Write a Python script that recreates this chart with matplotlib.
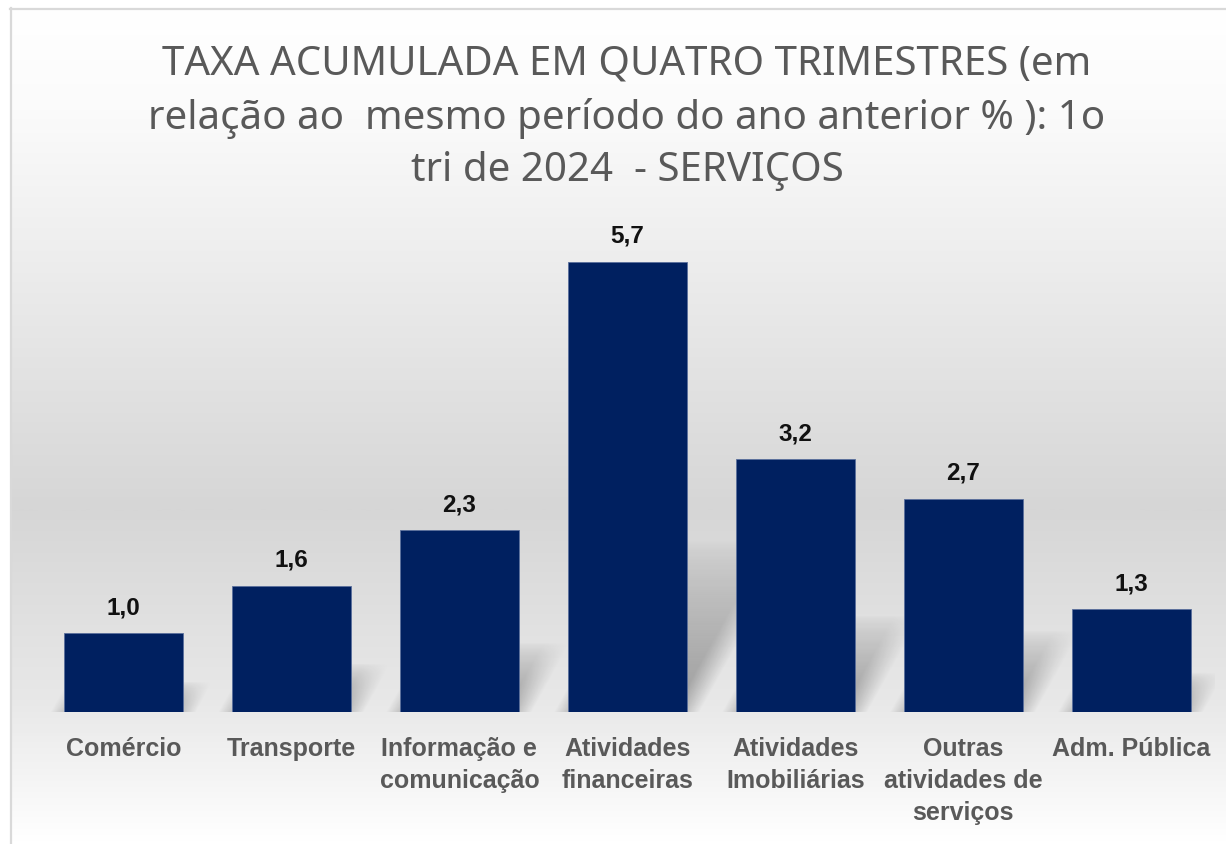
# !/usr/bin/env python

# ******************************************    Libraries to be imported    ****************************************** #
import numpy as np
from matplotlib import pyplot as plt
from matplotlib.colors import LinearSegmentedColormap

# ******************************************            Chart data          ****************************************** #
title_text = ("TAXA ACUMULADA EM QUATRO TRIMESTRES (em\n"
              "relação ao  mesmo período do ano anterior % ): 1o\n"
              "tri de 2024  - SERVIÇOS")
categories = ["Comércio", "Transporte", "Informação e\ncomunicação", "Atividades\nfinanceiras",
              "Atividades\nImobiliárias", "Outras\natividades de\nserviços", "Adm. Pública"]
values = [1.0, 1.6, 2.3, 5.7, 3.2, 2.7, 1.3]
value_labels = ["1,0", "1,6", "2,3", "5,7", "3,2", "2,7", "1,3"]


# ******************************************        Function Definition     ****************************************** #
def draw_background(fig):
    bg = fig.add_axes([0, 0, 1, 1], zorder=-10)
    bg.set_xlim(0, 1226)
    bg.set_ylim(844, 0)
    bg.axis('off')
    cmap = LinearSegmentedColormap.from_list(
        'bg', [(0.0, '#ffffff'), (0.12, '#fbfbfb'), (0.6, '#d6d6d6'),
               (0.83, '#e8e8e8'), (1.0, '#ffffff')])
    grad = np.linspace(0, 1, 400).reshape(-1, 1)
    bg.imshow(grad, cmap=cmap, aspect='auto', extent=[10, 1226, 844, 8], zorder=0)
    bg.plot([10, 1226], [8.5, 8.5], color='#d9d9d9', lw=1.6, zorder=1)
    bg.plot([10.5, 10.5], [8, 844], color='#d9d9d9', lw=1.6, zorder=1)


def draw_shadows(ax, x, heights, width, y_top):
    xs = np.linspace(-0.5, len(heights) - 0.5, 1400)
    ys = np.linspace(0, y_top, 600)
    X, Y = np.meshgrid(xs, ys)
    alpha = np.zeros_like(X)
    soft = 0.16
    for xc, h in zip(x, heights):
        hs = 0.38 * h
        dx = 0.1 * h
        t = Y / hs
        shift = np.clip(t, 0, 1) * dx
        left = xc - width / 2 + shift
        right = xc + width / 2 + shift
        a_h = np.clip((X - left) / soft + 0.5, 0, 1) * np.clip((right - X) / soft + 0.5, 0, 1)
        a_v = np.clip(1 - t, 0, 1) ** 0.7
        alpha = np.maximum(alpha, 0.32 * a_h * a_v)
    rgba = np.zeros(X.shape + (4,))
    rgba[..., 3] = alpha
    ax.imshow(rgba, origin='lower', aspect='auto', interpolation='bilinear',
              extent=[xs[0], xs[-1], 0, y_top], zorder=1)


# ******************************************        Main Program Start      ****************************************** #
def main():
    fig = plt.figure(figsize=[12.26, 8.44], dpi=100)
    draw_background(fig)

    ax = fig.add_axes([0.0322, 0.1564, 0.9590, 0.6084])
    ax.patch.set_alpha(0)
    y_top = 6.5
    x = np.arange(len(values))
    width = 0.71

    draw_shadows(ax, x, values, width, y_top)
    ax.bar(x, values, width=width, color='#002060', edgecolor='#5a6f9c', linewidth=0.6, zorder=3)

    for xi, v, lab in zip(x, values, value_labels):
        ax.text(xi, v + 0.32, lab, ha='center', va='center', fontsize=17.5, fontweight='bold',
                family='Liberation Sans', color='#111111', zorder=4)

    ax.set_xlim(-0.5, len(values) - 0.5)
    ax.set_ylim(0, y_top)
    ax.set_xticks(x)
    ax.set_xticklabels(categories, fontsize=18, fontweight='bold', family='Liberation Sans',
                       color='#595959', linespacing=1.42)
    ax.tick_params(axis='x', length=0, pad=18)
    ax.set_yticks([])
    for side in ax.spines.values():
        side.set_visible(False)

    fig.text(0.5114, 1 - 118 / 844, title_text, ha='center', va='center', fontsize=29,
             family='Noto Sans', color='#595959', linespacing=1.42)

    fig.savefig('out.png', dpi=100)


# ******************************************        Main Program End        ****************************************** #

if __name__ == '__main__':
    main()
